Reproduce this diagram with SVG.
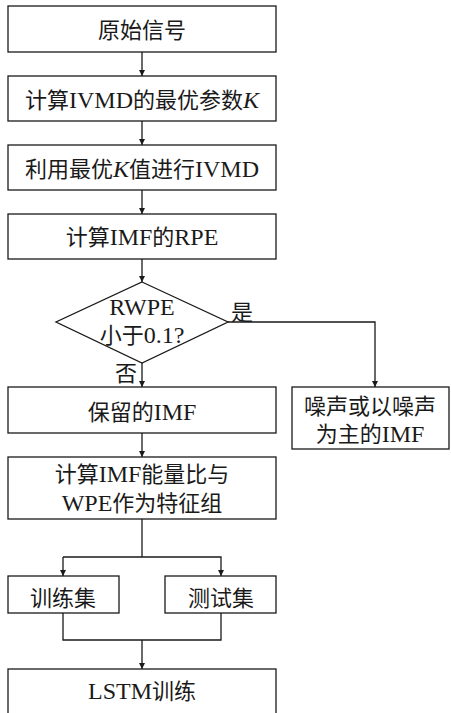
<svg xmlns="http://www.w3.org/2000/svg" width="451" height="713" viewBox="0 0 451 713">
<defs>
<marker id="ah" markerWidth="8" markerHeight="8" refX="6" refY="4" orient="auto" markerUnits="userSpaceOnUse">
<path d="M0,1 L6,4 L0,7 Z" fill="#1a1a1a"/>
</marker>
<style>
.box{fill:#fff;stroke:#1a1a1a;stroke-width:1.3}
.t{font-family:"Liberation Serif","Noto Sans CJK SC",serif;font-size:22px;fill:#1a1a1a;text-anchor:middle;dominant-baseline:central}
.l{font-size:24px}
.c{fill:none;stroke:#1a1a1a;stroke-width:1.3}
.a{marker-end:url(#ah)}
</style>
</defs>
<rect width="451" height="713" fill="#fff"/>
<g id="connectors">
<line class="c a" x1="142" y1="52" x2="142" y2="76"/>
<line class="c a" x1="142" y1="121" x2="142" y2="145"/>
<line class="c a" x1="142" y1="190" x2="142" y2="214"/>
<line class="c a" x1="142" y1="259" x2="142" y2="282"/>
<line class="c a" x1="142" y1="363" x2="142" y2="387"/>
<polyline class="c a" points="228,322 375,322 375,387"/>
<line class="c a" x1="142" y1="433" x2="142" y2="457"/>
<polyline class="c" points="142,519 142,557"/>
<polyline class="c a" points="63,557 221,557 221,576"/>
<line class="c a" x1="63" y1="557" x2="63" y2="576"/>
<polyline class="c" points="63,613 63,640 221,640 221,613"/>
<line class="c a" x1="142" y1="640" x2="142" y2="669"/>
</g>
<g id="n1"><rect class="box" x="8" y="6" width="268" height="46"/><text class="t" x="142" y="30">原始信号</text></g>
<g id="n2"><rect class="box" x="8" y="76" width="268" height="45"/><text class="t" x="142" y="100">计算<tspan class="l">IVMD</tspan>的最优参数<tspan class="l" font-style="italic">K</tspan></text></g>
<g id="n3"><rect class="box" x="8" y="145" width="268" height="45"/><text class="t" x="142" y="169">利用最优<tspan class="l" font-style="italic">K</tspan>值进行<tspan class="l">IVMD</tspan></text></g>
<g id="n4"><rect class="box" x="8" y="214" width="268" height="45"/><text class="t" x="142" y="237">计算<tspan class="l">IMF</tspan>的<tspan class="l">RPE</tspan></text></g>
<g id="n5"><polygon class="box" points="142,282 228,322 142,363 56,322"/><text class="t l" x="142" y="307">RWPE</text><text class="t" x="142" y="335">小于<tspan class="l">0.1?</tspan></text></g>
<text class="t" x="242" y="312">是</text>
<text class="t" x="126" y="373">否</text>
<g id="n6"><rect class="box" x="8" y="387" width="268" height="46"/><text class="t" x="142" y="412">保留的<tspan class="l">IMF</tspan></text></g>
<g id="n7"><rect class="box" x="292" y="387" width="157" height="62"/><text class="t" x="370" y="406">噪声或以噪声</text><text class="t" x="370" y="434">为主的<tspan class="l">IMF</tspan></text></g>
<g id="n8"><rect class="box" x="8" y="457" width="268" height="62"/><text class="t" x="142" y="474">计算<tspan class="l">IMF</tspan>能量比与</text><text class="t" x="142" y="503"><tspan class="l">WPE</tspan>作为特征组</text></g>
<g id="n9"><rect class="box" x="8" y="576" width="111" height="37"/><text class="t" x="63" y="598">训练集</text></g>
<g id="n10"><rect class="box" x="165" y="576" width="111" height="37"/><text class="t" x="221" y="598">测试集</text></g>
<g id="n11"><rect class="box" x="8" y="669" width="268" height="50"/><text class="t" x="142" y="691"><tspan class="l">LSTM</tspan>训练</text></g>
</svg>
